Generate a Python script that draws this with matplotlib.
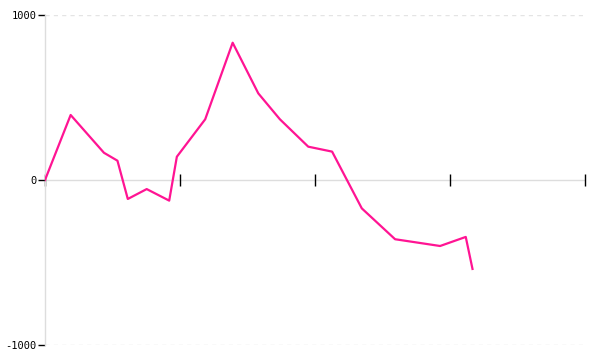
import matplotlib
matplotlib.use("Agg")
import matplotlib.pyplot as plt

# values
days = [0, 5.7, 13.1, 16.1, 18.4, 22.6, 27.6, 29.3, 35.6, 41.7,
        47.4, 52.2, 58.5, 63.8, 70.4, 77.8, 87.8, 93.5, 95.0]
values = [0, 394, 165, 117, -115, -55, -125, 141, 368, 832,
          525, 368, 202, 172, -172, -359, -400, -345, -539]
x_ticks = [0, 30, 60, 90, 120]
y_ticks = [-1000, 0, 1000]
y_labels = ['-1000', '0', '1000']

fig = plt.figure(figsize=(6, 3.6), dpi=100)
ax = fig.add_axes([45 / 600, 15 / 360, 540 / 600, 330 / 360])

# grid at top/bottom
for v in (1000, -1000):
    ax.axhline(v, color='#e4e4e4', lw=1, ls=(0, (3, 3)), zorder=0)
ax.axhline(0, color='#dddddd', lw=1, zorder=1)

ax.plot(days, values, color='#ff1493', lw=1.6, zorder=3)

ax.set_xlim(0, 120)
ax.set_ylim(-1000, 1000)

for s in ['top', 'right', 'bottom']:
    ax.spines[s].set_visible(False)
ax.spines['left'].set_color('#dddddd')
ax.spines['left'].set_linewidth(1)

ax.set_xticks(x_ticks)
ax.set_xticklabels([])
ax.set_yticks(y_ticks)
ax.set_yticklabels(y_labels, family='DejaVu Sans Mono', fontsize=7.5)
ax.tick_params(axis='y', length=5, width=1, color='black', pad=1)
ax.tick_params(axis='x', direction='inout', length=9, width=1, color='black')
# move x ticks to sit on the zero line
ax.spines['bottom'].set_position(('data', 0))

fig.savefig('out.png', dpi=100)
